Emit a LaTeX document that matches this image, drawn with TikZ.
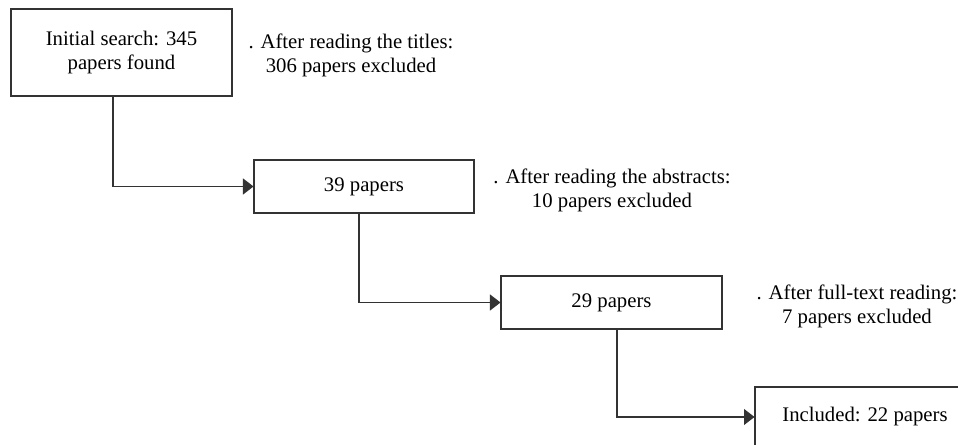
\documentclass[tikz,border=0pt]{standalone}
\usepackage{fontspec}
\setmainfont{Liberation Serif}
\usetikzlibrary{arrows.meta}

\begin{document}
\begin{tikzpicture}[x=0.02cm, y=-0.02cm, line width=0.6pt,
    >={Triangle[length=0.21cm, width=0.32cm]},
    font=\fontsize{11.8}{13.7}\selectfont]
\clip (0,0) rectangle (958,445);

\begin{scope}[every node/.style={rectangle,draw=black!80,align=center,inner sep=0pt}]
    \node[minimum width=4.42cm, minimum height=1.74cm] (1) at (121.5,52.5) {Initial search: 345\\papers found};
    \node[minimum width=4.4cm, minimum height=1.06cm] (2) at (364,186.5) {39 papers};
    \node[minimum width=4.42cm, minimum height=1.06cm] (3) at (611.5,302.5) {29 papers};
    \node[minimum width=4.4cm, minimum height=1.2cm] (4) at (865,417) {Included: 22 papers};
\end{scope}

\begin{scope}[every node/.style={align=center}]
    \node (t1) at (351,55) {. After reading the titles:\\306 papers excluded};
    \node (t2) at (612,190) {. After reading the abstracts:\\10 papers excluded};
    \node (t3) at (857,306) {. After full-text reading:\\7 papers excluded};
\end{scope}

\draw[->, black!80] ([xshift=-0.17cm]1.south) |- (2);
\draw[->, black!80] ([xshift=-0.1cm]2.south) |- (3);
\draw[->, black!80] ([xshift=0.11cm]3.south) |- (4);
\end{tikzpicture}
\end{document}
